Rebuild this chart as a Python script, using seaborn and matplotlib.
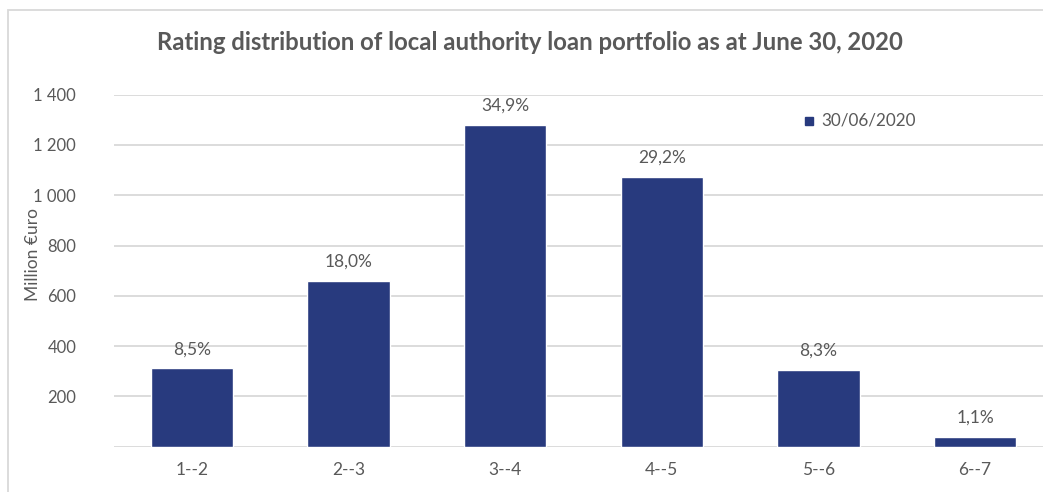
import matplotlib
matplotlib.use("Agg")
import matplotlib.pyplot as plt
import seaborn as sns
import pandas as pd
from matplotlib.patches import Rectangle

# Portfolio by rating bucket (million euro) and share of total
ratings = ["1--2", "2--3", "3--4", "4--5", "5--6", "6--7"]
amounts = [312, 661, 1281, 1072, 305, 40]
shares = ["8,5%", "18,0%", "34,9%", "29,2%", "8,3%", "1,1%"]
y_ticks = [0, 200, 400, 600, 800, 1000, 1200, 1400]
series_label = "30/06/2020"
title = "Rating distribution of local authority loan portfolio as at June 30, 2020"

sns.set_theme(style="white")
plt.rcParams["font.family"] = ["Lato", "DejaVu Sans"]

bar_color = "#283A7E"
text_color = "#595959"
grid_color = "#D9D9D9"

df = pd.DataFrame({"rating": ratings, "amount": amounts})

fig = plt.figure(figsize=(10.43, 4.92), dpi=100)
ax = fig.add_axes([0.109, 0.0921, 0.9009, 0.7154])

for y in y_ticks:
    ax.axhline(y, color=grid_color, lw=1.3, zorder=0)

sns.barplot(data=df, x="rating", y="amount", color=bar_color, width=0.527,
            saturation=1, ax=ax, zorder=2)

ax.set_ylim(0, 1400)
ax.set_xlim(-0.5, len(ratings) - 0.5)
ax.set_yticks(y_ticks[1:])
ax.set_yticklabels([f"{v:,}".replace(",", " ") for v in y_ticks[1:]],
                   color=text_color, fontsize=12)
ax.tick_params(axis="y", length=0, pad=27)
ax.tick_params(axis="x", length=0, pad=11, labelsize=12.5, labelcolor=text_color)
ax.set_xlabel("")
ax.set_ylabel("Million €uro", color=text_color, fontsize=12.5, labelpad=2)
ax.yaxis.set_label_coords(-0.077, 0.545)
for s in ax.spines.values():
    s.set_visible(False)

for i, (v, lab) in enumerate(zip(amounts, shares)):
    ax.annotate(lab, (i, v), xytext=(0, 8), textcoords="offset points",
                ha="center", va="bottom", color=text_color, fontsize=12.5)

# Legend entry
fig.patches.append(Rectangle((805 / 1043, 1 - 125 / 492), 8 / 1043, 8 / 492,
                             transform=fig.transFigure, color=bar_color))
fig.text(821 / 1043, 1 - 121 / 492, series_label, color=text_color,
         fontsize=12.3, va="center", ha="left")

fig.text(530 / 1043, 1 - 43 / 492, title, color=text_color, fontsize=17.2,
         fontweight="bold", ha="center", va="center")

# Chart frame
fig.patches.append(Rectangle((7.5 / 1043, -0.1), 1.2, 1 - 10 / 492 + 0.1,
                             transform=fig.transFigure, fill=False,
                             edgecolor=grid_color, lw=1.3))

fig.savefig("out.png", dpi=100)
